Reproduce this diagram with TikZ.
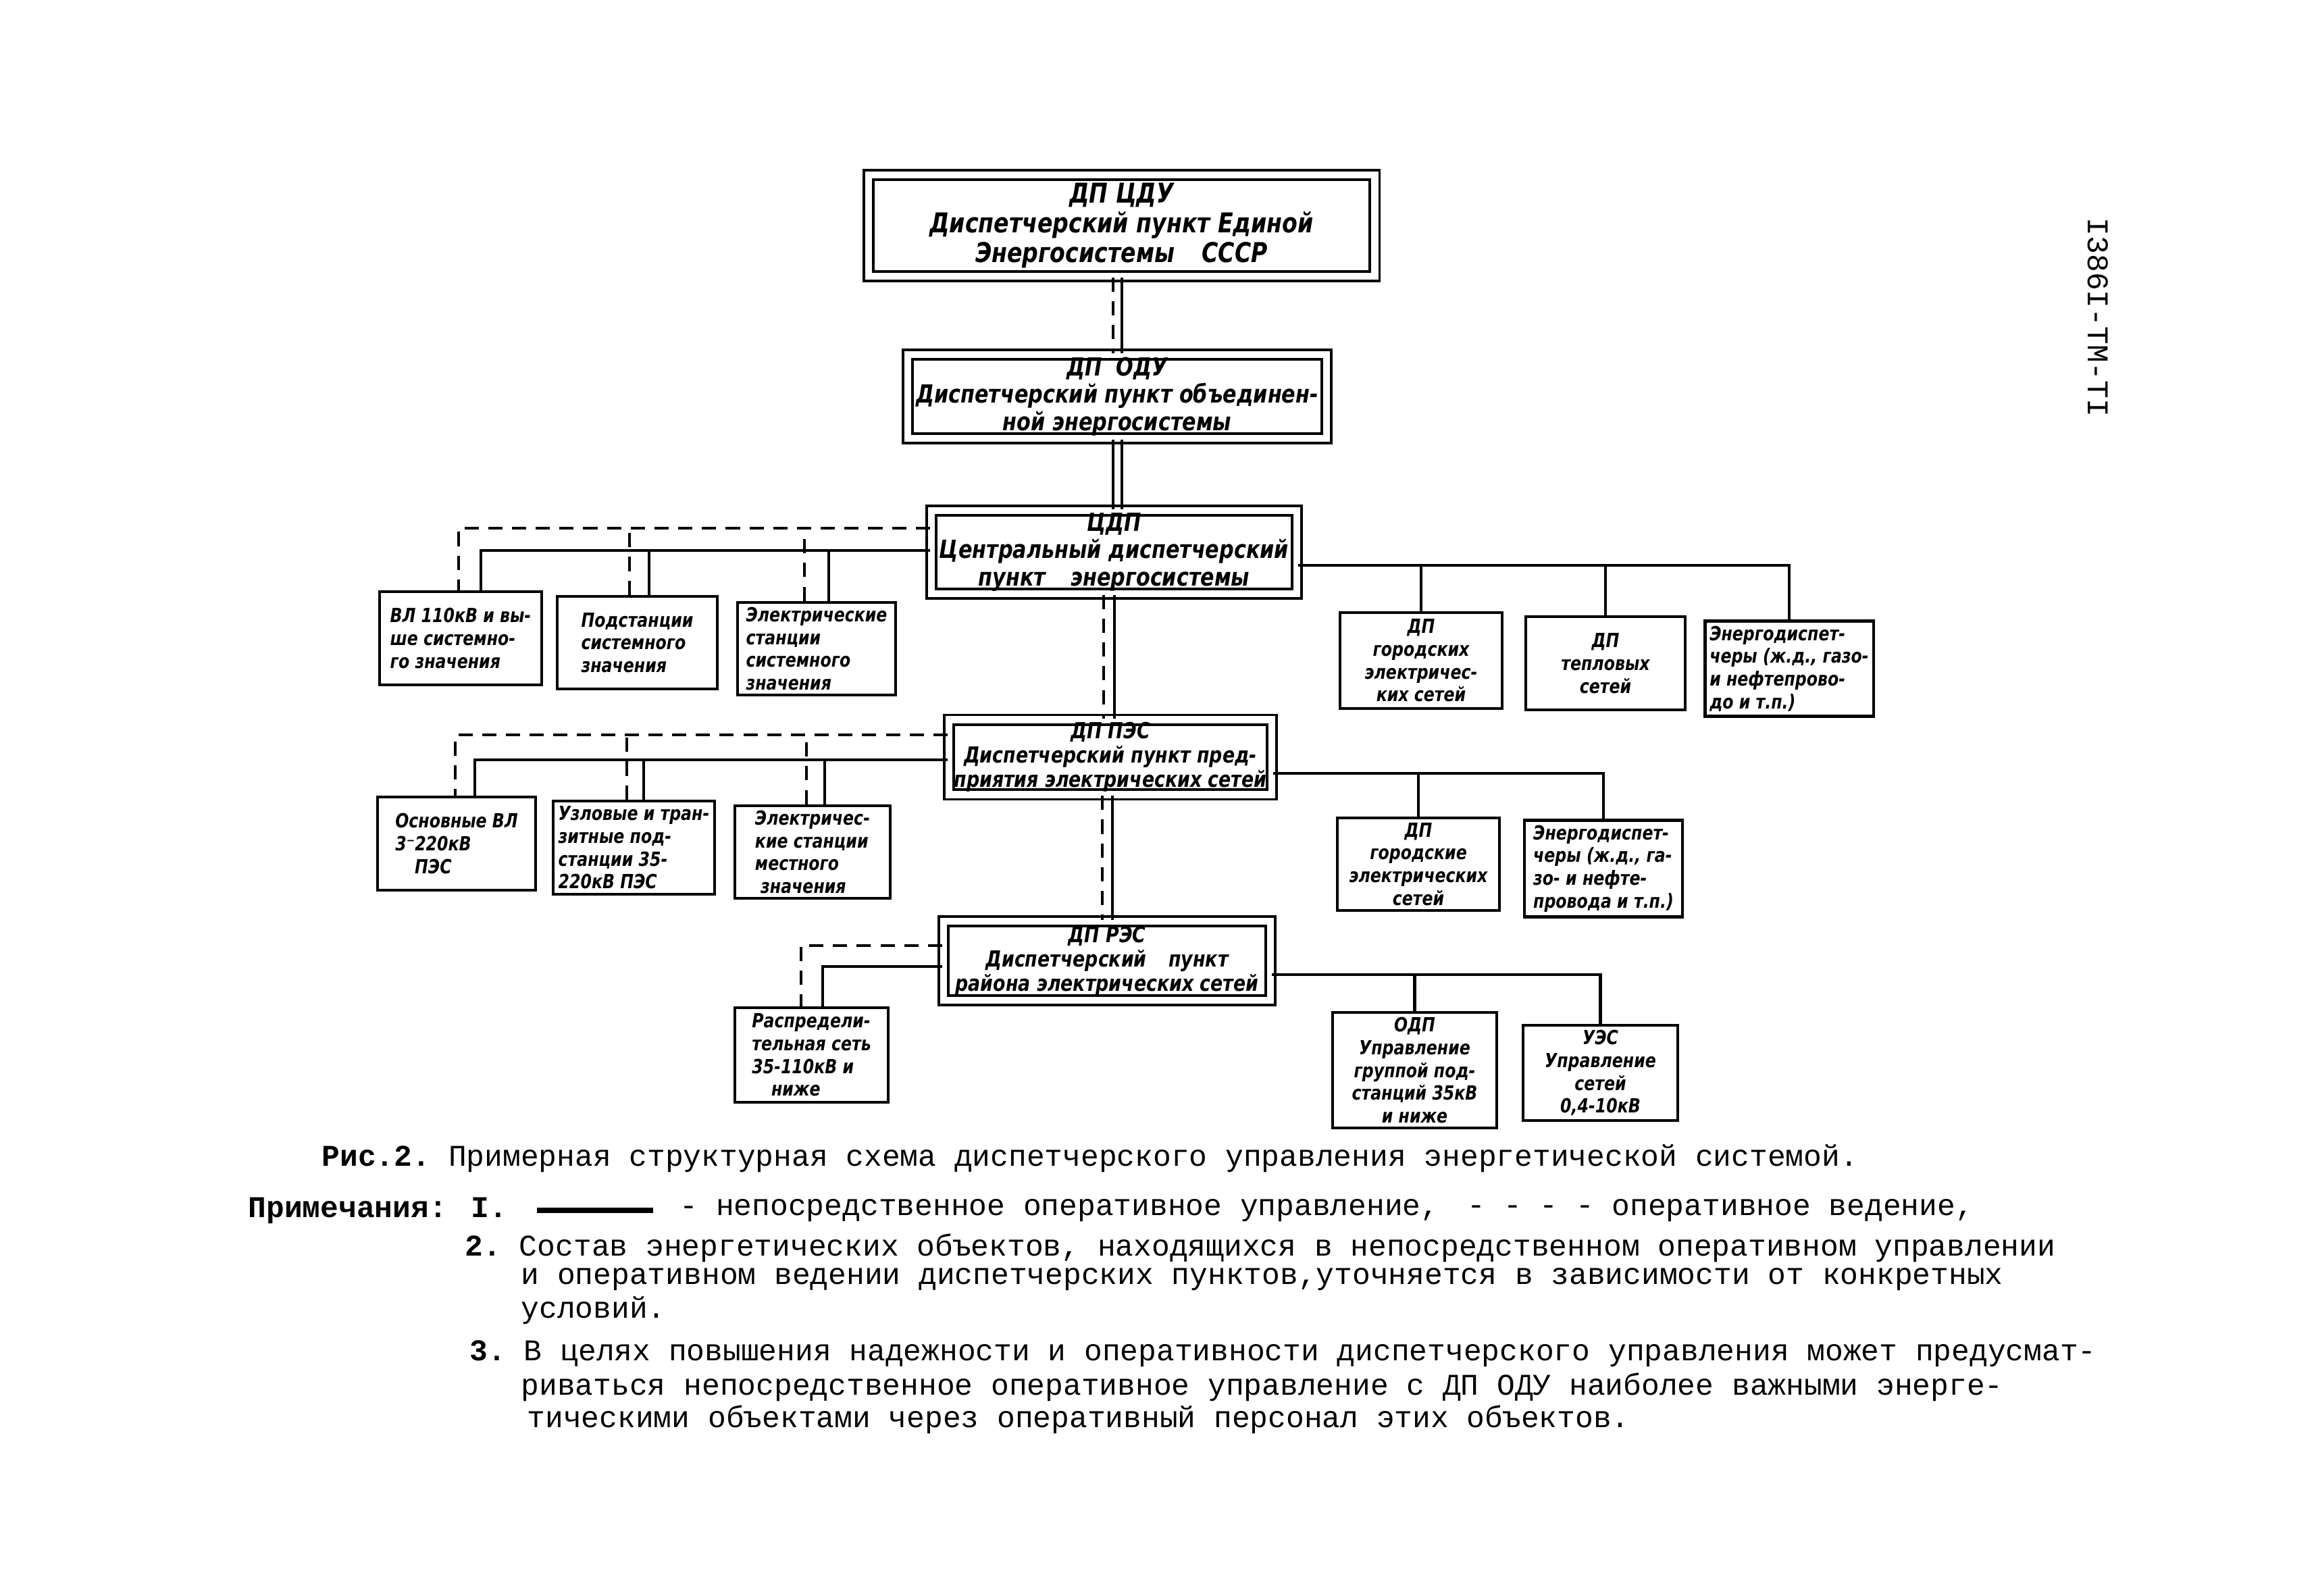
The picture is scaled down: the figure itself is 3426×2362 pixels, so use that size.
\documentclass[tikz,border=0pt]{standalone}
\usepackage{fontspec}
\newfontfamily\hand[FakeStretch=0.82]{DejaVu Sans}
\newfontfamily\typew{Liberation Mono}
\usetikzlibrary{calc}
\newcommand\placebox[7]{%
  \pgfmathsetmacro\bxcx{(#3+#5)/2}%
  \pgfmathsetmacro\bxcy{(#4+#6)/2}%
  \pgfmathsetmacro\bxw{(#5-#3)/100}%
  \pgfmathsetmacro\bxh{(#6-#4)/100}%
  \node[#1, minimum width=\bxw cm, minimum height=\bxh cm] (#2) at (\bxcx,\bxcy) {#7};%
}
\begin{document}
\begin{tikzpicture}[x=0.01cm,y=-0.01cm,
  hw/.style 2 args={font=\hand\bfseries\itshape\fontsize{#1}{#2}\selectfont},
  mainbox/.style={draw, double, double distance=3pt, line width=1.1pt, align=center, inner sep=1pt},
  subbox/.style={draw, line width=1.3pt, inner sep=2pt},
  conn/.style={line width=1.2pt},
  dconn/.style={line width=1.2pt, dash pattern=on 6pt off 4pt},
  typ/.style={font=\typew\fontsize{12.68}{14}\selectfont, inner sep=0pt, anchor=west}
]
\fill[white] (0,0) rectangle (3426,2362);
\useasboundingbox (0,0) rectangle (3426,2362);

% main boxes
\placebox{mainbox, hw={11.5}{12.5}}{cdu}{1286}{259}{2035}{409}{ДП ЦДУ\\Диспетчерский пункт Единой\\Энергосистемы\quad СССР}
\placebox{mainbox, hw={10.5}{11.5}}{odu}{1344}{525}{1964}{649}{ДП \ ОДУ\\Диспетчерский пункт объединен-\\ной энергосистемы}
\placebox{mainbox, hw={10.5}{11.5}}{cdp}{1379}{759}{1920}{876}{ЦДП\\Центральный диспетчерский\\пункт\quad энергосистемы}
\placebox{mainbox, hw={9.3}{10.3}}{pes}{1405}{1067}{1883}{1175}{ДП ПЭС\\Диспетчерский пункт пред-\\приятия электрических сетей}
\placebox{mainbox, hw={9.3}{10.3}}{res}{1397}{1364}{1881}{1481}{ДП РЭС\\Диспетчерский\quad пункт\\района электрических сетей}

% subordinate boxes
\placebox{subbox, hw={8.2}{9.6}, align=left}{a1}{562}{876}{802}{1014}{ВЛ 110кВ и вы-\\ше системно-\\го значения}
\placebox{subbox, hw={8.2}{9.6}, align=left}{a2}{825}{883}{1062}{1020}{Подстанции\\системного\\значения}
\placebox{subbox, hw={8.2}{9.6}, align=left}{a3}{1092}{893}{1326}{1028}{Электрические\\станции\\системного\\значения}
\placebox{subbox, hw={8.2}{9.6}, align=center}{b1}{1984}{907}{2224}{1049}{ДП\\городских\\электричес-\\ких сетей}
\placebox{subbox, hw={8.2}{9.6}, align=center}{b2}{2259}{913}{2495}{1051}{ДП\\тепловых\\сетей}
\placebox{subbox, hw={8.2}{9.6}, align=left}{b3}{2530}{922}{2768}{1058}{Энергодиспет-\\черы (ж.д., газо-\\и нефтепрово-\\до и т.п.)}
\placebox{subbox, hw={8.2}{9.6}, align=left}{c1}{559}{1180}{793}{1318}{Основные ВЛ\\3⁻220кВ\\\quad ПЭС}
\placebox{subbox, hw={8.2}{9.6}, align=left}{c2}{819}{1186}{1058}{1324}{Узловые и тран-\\зитные под-\\станции 35-\\220кВ ПЭС}
\placebox{subbox, hw={8.2}{9.6}, align=left}{c3}{1088}{1195}{1318}{1328}{Электричес-\\кие станции\\местного\\\ значения}
\placebox{subbox, hw={8.2}{9.6}, align=center}{d1}{1980}{1213}{2220}{1346}{ДП\\городские\\электрических\\сетей}
\placebox{subbox, hw={8.2}{9.6}, align=left}{d2}{2257}{1219}{2491}{1353}{Энергодиспет-\\черы (ж.д., га-\\зо- и нефте-\\провода и т.п.)}
\placebox{subbox, hw={8.2}{9.6}, align=left}{e1}{1088}{1492}{1315}{1632}{Распредели-\\тельная сеть\\35-110кВ и\\\quad ниже}
\placebox{subbox, hw={8.2}{9.6}, align=center}{f1}{1973}{1519}{2216}{1650}{ОДП\\Управление\\группой под-\\станций 35кВ\\и ниже}
\placebox{subbox, hw={8.2}{9.6}, align=center}{f2}{2255}{1523}{2484}{1654}{УЭС\\Управление\\сетей\\0,4-10кВ}

% vertical trunk
\draw[dconn] (cdu.south -| 1648,0) -- (odu.north -| 1648,0);
\draw[conn]  (cdu.south -| 1661,0) -- (odu.north -| 1661,0);
\draw[conn]  (odu.south -| 1648,0) -- (cdp.north -| 1648,0);
\draw[conn]  (odu.south -| 1661,0) -- (cdp.north -| 1661,0);
\draw[dconn] (cdp.south -| 1634,0) -- (pes.north -| 1634,0);
\draw[conn]  (cdp.south -| 1650,0) -- (pes.north -| 1650,0);
\draw[dconn] (pes.south -| 1632,0) -- (res.north -| 1632,0);
\draw[conn]  (pes.south -| 1647,0) -- (res.north -| 1647,0);

% CDP left
\draw[dconn] (cdp.west |- 0,782) -| (a1.north -| 679,0);
\draw[dconn] (a2.north -| 932,0) -- (932,782);
\draw[dconn] (a3.north -| 1191,0) -- (1191,782);
\draw[conn] (cdp.west |- 0,815) -| (a1.north -| 712,0);
\draw[conn] (a2.north -| 961,0) -- (961,815);
\draw[conn] (a3.north -| 1227,0) -- (1227,815);
% CDP right
\draw[conn] (cdp.east |- 0,837) -| (b3.north);
\draw[conn] (b1.north) -- (b1.north |- 0,837);
\draw[conn] (b2.north) -- (b2.north |- 0,837);

% PES left
\draw[dconn] (pes.west |- 0,1088) -| (c1.north -| 674,0);
\draw[dconn] (c2.north -| 928,0) -- (928,1088);
\draw[dconn] (c3.north -| 1194,0) -- (1194,1088);
\draw[conn] (pes.west |- 0,1125) -| (c1.north -| 703,0);
\draw[conn] (c2.north -| 953,0) -- (953,1125);
\draw[conn] (c3.north -| 1221,0) -- (1221,1125);
% PES right
\draw[conn] (pes.east |- 0,1145) -| (d2.north);
\draw[conn] (d1.north) -- (d1.north |- 0,1145);

% RES left
\draw[dconn] (res.west |- 0,1400) -| (e1.north -| 1186,0);
\draw[conn] (res.west |- 0,1431) -| (e1.north -| 1218,0);
% RES right
\draw[conn] (res.east |- 0,1443) -| (f2.north);
\draw[conn] (f1.north) -- (f1.north |- 0,1443);

% side code
\node[font=\typew\fontsize{12.68}{14}\selectfont, rotate=-90, inner sep=0pt] (code) at (3106,470) {I386I-ТМ-ТI};

% caption and notes
\node[typ] (cap) at (476,1715) {\bfseries Рис.2.\mdseries\ Примерная структурная схема диспетчерского управления энергетической системой.};
\node[typ] (n1) at (367,1792) {\bfseries Примечания: I.};
\coordinate (s1) at (795,1792);
\coordinate (s2) at (967,1792);
\draw[line width=2.2pt] (s1) -- (s2);
\node[typ] (n1b) at (1006,1792) {- непосредственное оперативное управление,};
\node[typ] (n1c) at (2172,1792) {- - - -};
\node[typ] (n1d) at (2386,1792) {оперативное ведение,};
\node[typ] (n2a) at (688,1848) {\bfseries 2.\mdseries\ Состав энергетических объектов, находящихся в непосредственном оперативном управлении};
\node[typ] (n2b) at (771,1894) {и оперативном ведении диспетчерских пунктов,уточняется в зависимости от конкретных};
\node[typ] (n2c) at (771,1940) {условий.};
\node[typ] (n3a) at (695,2004) {\bfseries 3.\mdseries\ В целях повышения надежности и оперативности диспетчерского управления может предусмат-};
\node[typ] (n3b) at (771,2054) {риваться непосредственное оперативное управление с ДП ОДУ наиболее важными энерге-};
\node[typ] (n3c) at (780,2102) {тическими объектами через оперативный персонал этих объектов.};
\end{tikzpicture}
\end{document}
